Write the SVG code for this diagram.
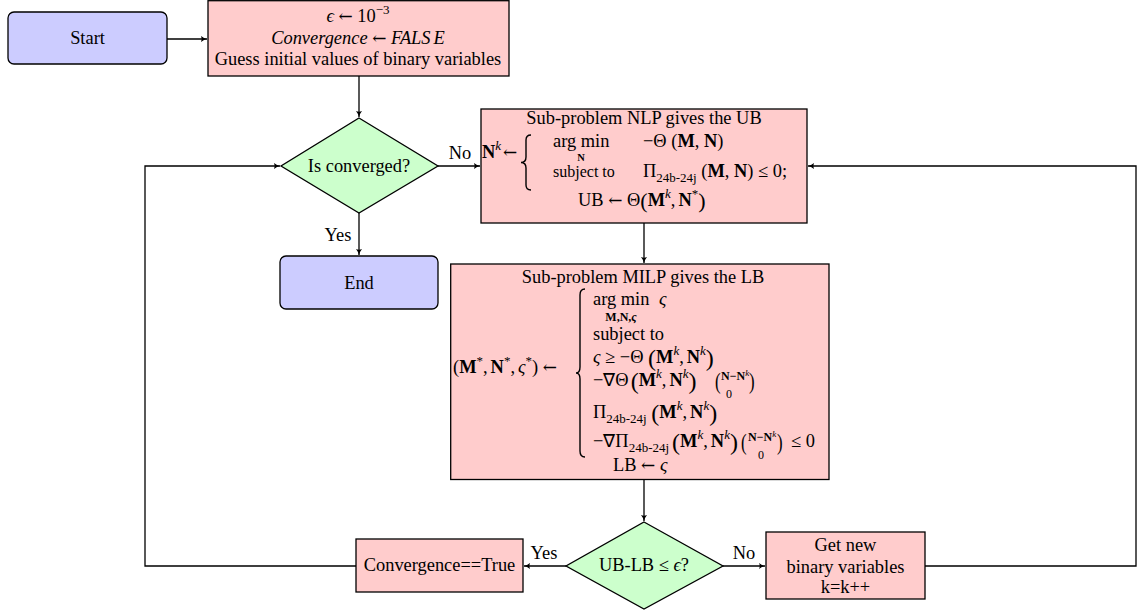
<svg xmlns="http://www.w3.org/2000/svg" width="1144" height="614" viewBox="0 0 1144 614">
<defs>
<style>
text { font-family: "Liberation Serif", "Times New Roman", serif; font-size: 18.4px; fill: #000; }
.b { font-weight: bold; }
.i { font-style: italic; }
.s { font-size: 13px; }
.ss { font-size: 12px; }
.xs { font-size: 10.5px; }
.st { font-size: 16px; }
.bp { font-size: 24px; }
.mp { font-size: 22px; }
.ar { font-family: "DejaVu Serif", "DejaVu Sans", serif; font-size: 17px; font-style: normal; }
.box { stroke: #000; stroke-width: 1.3; }
.pink { fill: #ffcccc; }
.green { fill: #ccffcc; }
.blue { fill: #ccccff; }
.conn { fill: none; stroke: #000; stroke-width: 1.3; }
.brace { fill: none; stroke: #000; stroke-width: 1.4; }
</style>
<marker id="arr" markerWidth="8" markerHeight="8" refX="7" refY="4" orient="auto" markerUnits="userSpaceOnUse">
<path d="M1,1 Q4,3.4 7,4 Q4,4.6 1,7 Q2.5,4 1,1 Z" fill="#000"/>
</marker>
</defs>
<rect width="1144" height="614" fill="#fff"/>

<g id="connectors">
<path class="conn" d="M167,39 H207" marker-end="url(#arr)"/>
<path class="conn" d="M359,76 V117" marker-end="url(#arr)"/>
<path class="conn" d="M438,166 H480" marker-end="url(#arr)"/>
<text x="460" y="159" text-anchor="middle">No</text>
<path class="conn" d="M359,213 V255" marker-end="url(#arr)"/>
<text x="338" y="241" text-anchor="middle">Yes</text>
<path class="conn" d="M644,223 V263" marker-end="url(#arr)"/>
<path class="conn" d="M644,480 V521" marker-end="url(#arr)"/>
<path class="conn" d="M566,566 H524" marker-end="url(#arr)"/>
<text x="544" y="559" text-anchor="middle">Yes</text>
<path class="conn" d="M723,566 H765" marker-end="url(#arr)"/>
<text x="744" y="559" text-anchor="middle">No</text>
<path class="conn" d="M356,566 H145 V166 H280" marker-end="url(#arr)"/>
<path class="conn" d="M925,566 H1136 V166 H808" marker-end="url(#arr)"/>
</g>

<g id="start">
<rect class="box blue" x="8" y="12" width="159" height="52" rx="6"/>
<text x="87.5" y="44" text-anchor="middle">Start</text>
</g>

<g id="init">
<rect class="box pink" x="208" y="0.7" width="301" height="75.3"/>
<text x="358" y="22" text-anchor="middle"><tspan class="i">ϵ</tspan> <tspan class="ar">←</tspan> 10<tspan class="s" dy="-8">−3</tspan></text>
<text x="358" y="44" text-anchor="middle"><tspan class="i">Convergence</tspan> <tspan class="ar">←</tspan> <tspan class="i">FALS</tspan><tspan class="i" dx="3">E</tspan></text>
<text x="358" y="65" text-anchor="middle">Guess initial values of binary variables</text>
</g>

<g id="converged">
<polygon class="box green" points="359,118 438,166 359,213 281,166"/>
<text x="359" y="172" text-anchor="middle">Is converged?</text>
</g>

<g id="end">
<rect class="box blue" x="280" y="256" width="158" height="53" rx="6"/>
<text x="359" y="289" text-anchor="middle">End</text>
</g>

<g id="nlp">
<rect class="box pink" x="481" y="109" width="326" height="114"/>
<text x="644" y="124" text-anchor="middle">Sub-problem NLP gives the UB</text>
<text x="482" y="158"><tspan class="b">N</tspan><tspan class="s i" dy="-8">k</tspan></text>
<text x="503" y="158" class="ar">←</text>
<path class="brace" d="M531,135 Q526,135 526,140 L526,157 Q526,162.5 521,162.5 Q526,162.5 526,168 L526,185 Q526,190 531,190"/>
<text x="553" y="146.5">arg min</text>
<text x="581" y="160.6" text-anchor="middle" class="b xs">N</text>
<text x="643" y="146.5">−Θ (<tspan class="b">M</tspan>, <tspan class="b">N</tspan>)</text>
<text x="553" y="177.2" class="st">subject to</text>
<text x="643" y="176.5">Π<tspan class="s" dy="5">24b-24j</tspan><tspan dy="-5"> (</tspan><tspan class="b">M</tspan>, <tspan class="b">N</tspan>) ≤ 0;</text>
<text x="578" y="206">UB <tspan class="ar">←</tspan> Θ<tspan class="mp" dy="2">(</tspan><tspan class="b" dy="-2">M</tspan><tspan class="s i" dy="-8">k</tspan><tspan dy="8">,</tspan><tspan class="b" dx="3">N</tspan><tspan class="s" dy="-8">*</tspan><tspan class="mp" dy="10">)</tspan></text>
</g>

<g id="milp">
<rect class="box pink" x="450.7" y="264" width="378.3" height="215.5"/>
<text x="643" y="283" text-anchor="middle">Sub-problem MILP gives the LB</text>
<text x="453" y="373">(<tspan class="b">M</tspan><tspan class="s" dy="-8">*</tspan><tspan dy="8">,</tspan><tspan class="b" dx="3">N</tspan><tspan class="s" dy="-8">*</tspan><tspan dy="8">,</tspan><tspan class="i" dx="3">ς</tspan><tspan class="s" dy="-8">*</tspan><tspan dy="8">) </tspan><tspan class="ar">←</tspan></text>
<path class="brace" d="M585,289 Q580,289 580,295 L580,367 Q580,373 576,373 Q580,373 580,379 L580,451 Q580,457 585,457"/>
<text x="593" y="305">arg min</text>
<text x="659" y="305" class="i">ς</text>
<text x="621" y="321" text-anchor="middle" class="ss b">M,N,<tspan class="i">ς</tspan></text>
<text x="593" y="340">subject to</text>
<text x="593" y="363"><tspan class="i">ς</tspan> ≥ −Θ <tspan class="bp" dy="3">(</tspan><tspan class="b" dy="-3">M</tspan><tspan class="s i" dy="-8">k</tspan><tspan dy="8">,</tspan><tspan class="b" dx="3">N</tspan><tspan class="s i" dy="-8">k</tspan><tspan class="bp" dy="11">)</tspan></text>
<text x="593" y="386">−∇Θ<tspan class="bp" dx="2" dy="3">(</tspan><tspan class="b" dy="-3">M</tspan><tspan class="s i" dy="-8">k</tspan><tspan dy="8">,</tspan><tspan class="b" dx="3">N</tspan><tspan class="s i" dy="-8">k</tspan><tspan class="bp" dy="11">)</tspan></text>
<text class="bp" transform="translate(715,389) scale(0.7,1)">(</text>
<text x="721" y="380" class="ss b">N−N<tspan class="i" font-weight="normal" font-size="9" dy="-4">k</tspan></text>
<text x="729" y="398" class="ss" text-anchor="middle">0</text>
<text class="bp" transform="translate(749,389) scale(0.7,1)">)</text>
<text x="593" y="418">Π<tspan class="s" dy="5">24b-24j</tspan><tspan dy="-5"> </tspan><tspan class="bp" dy="3">(</tspan><tspan class="b" dy="-3">M</tspan><tspan class="s i" dy="-8">k</tspan><tspan dy="8">,</tspan><tspan class="b" dx="3">N</tspan><tspan class="s i" dy="-8">k</tspan><tspan class="bp" dy="11">)</tspan></text>
<text x="593" y="447">−∇Π<tspan class="s" dy="5">24b-24j</tspan><tspan class="bp" dx="3" dy="-2">(</tspan><tspan class="b" dy="-3">M</tspan><tspan class="s i" dy="-8">k</tspan><tspan dy="8">,</tspan><tspan class="b" dx="3">N</tspan><tspan class="s i" dy="-8">k</tspan><tspan class="bp" dy="11">)</tspan></text>
<text class="bp" transform="translate(741,450) scale(0.7,1)">(</text>
<text x="748" y="441" class="ss b">N−N<tspan class="i" font-weight="normal" font-size="9" dy="-4">k</tspan></text>
<text x="761" y="459" class="ss" text-anchor="middle">0</text>
<text class="bp" transform="translate(777,450) scale(0.7,1)">)</text>
<text x="791" y="447">≤ 0</text>
<text x="613" y="471">LB <tspan class="ar">←</tspan> <tspan class="i">ς</tspan></text>
</g>

<g id="check">
<polygon class="box green" points="644,522 723,566 644,609 566,566"/>
<text x="644" y="571" text-anchor="middle">UB-LB ≤ <tspan class="i">ϵ</tspan>?</text>
</g>

<g id="convtrue">
<rect class="box pink" x="356" y="539" width="167" height="53"/>
<text x="439.5" y="571" text-anchor="middle">Convergence==True</text>
</g>

<g id="getnew">
<rect class="box pink" x="766" y="532" width="159" height="67"/>
<text x="845.5" y="551" text-anchor="middle">Get new</text>
<text x="845.5" y="573" text-anchor="middle">binary variables</text>
<text x="845.5" y="593" text-anchor="middle">k=k++</text>
</g>
</svg>
